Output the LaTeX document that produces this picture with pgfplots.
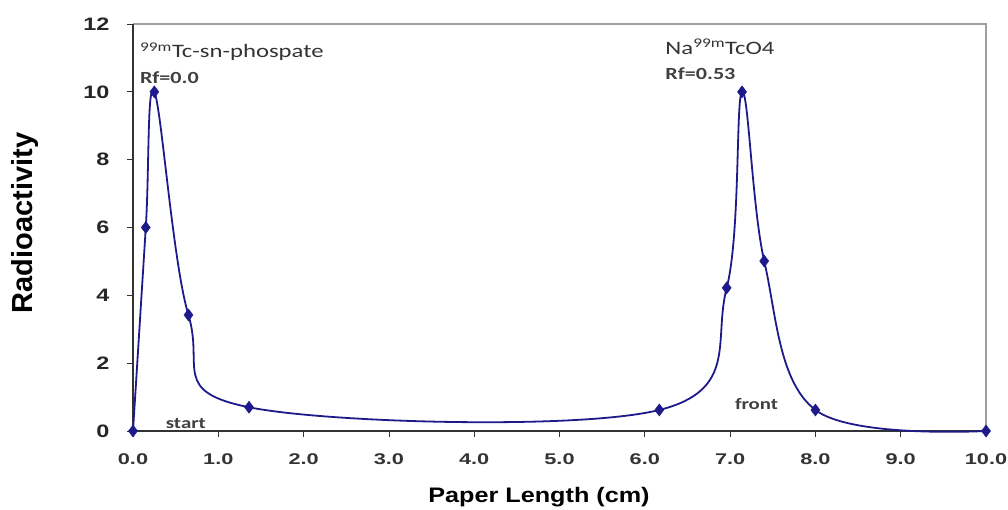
\documentclass[border=0pt]{standalone}
\usepackage{fontspec}
\setmainfont{Liberation Sans}
\newfontfamily\calib{Carlito}
\usepackage{graphicx}
\usepackage{pgfplots}
\pgfplotsset{compat=1.18}
\definecolor{navy}{HTML}{1E1A8A}
\newcommand{\sx}[2][1.3]{\scalebox{#1}[1]{#2}}
\begin{document}
\begin{tikzpicture}
\useasboundingbox (-133pt,-79pt) rectangle (875pt,431pt);
\begin{axis}[
  at={(0pt,0pt)}, anchor=south west,
  scale only axis, width=853pt, height=407pt,
  xmin=0, xmax=10, ymin=0, ymax=12,
  xtick={0,1,...,10}, ytick={0,2,...,12},
  axis line style={draw=none},
  tick style={black!80, line width=0.8pt},
  tick align=outside, major tick length=6pt,
  xtick pos=bottom, ytick pos=left,
  xticklabel={\sx[1.4]{\pgfmathprintnumber[fixed,fixed zerofill,precision=1,assume math mode=true]{\tick}}},
  yticklabel={\sx[1.3]{\pgfmathprintnumber[assume math mode=true]{\tick}}},
  xticklabel style={font=\bfseries\fontsize{15.5}{16}\selectfont, text=black!80, yshift=-13pt},
  yticklabel style={font=\bfseries\fontsize{18}{18}\selectfont, text=black!85, xshift=-14pt},
  xlabel={\sx[1.2]{Paper Length (cm)}}, ylabel={Radioactivity},
  xlabel style={font=\bfseries\fontsize{21}{22}\selectfont, at={(axis description cs:0.476,-0.162)}, anchor=center},
  ylabel style={font=\bfseries\fontsize{29}{30}\selectfont, at={(axis description cs:-0.127,0.511)}, anchor=center},
  clip=false,
]
\draw[gray!75, line width=1.2pt] (axis cs:0,12) -- (axis cs:10,12) -- (axis cs:10,0);
\draw[black!80, line width=1.8pt] (axis cs:0,12) -- (axis cs:0,0) -- (axis cs:10,0);
\addplot[navy, line width=1.8pt, smooth, tension=0.6, mark=diamond*, mark size=6pt, mark options={fill=navy, line width=0.5pt}]
coordinates {
(0,0) (0.15,6) (0.25,10) (0.65,3.42) (1.36,0.7) (6.17,0.62) (6.96,4.22) (7.14,10) (7.40,5.01) (8.0,0.62) (10,0)
};
\node[font=\calib\fontsize{19}{20}\selectfont, anchor=west, text=black!80, inner sep=0pt] at (axis cs:0.08,11.18) {\sx{\textsuperscript{99m}Tc-sn-phospate}};
\node[font=\calib\bfseries\fontsize{17}{18}\selectfont, anchor=west, text=black!75, inner sep=0pt] at (axis cs:0.08,10.41) {\sx{Rf=0.0}};
\node[font=\calib\fontsize{19}{20}\selectfont, anchor=west, text=black!80, inner sep=0pt] at (axis cs:6.24,11.33) {\sx{Na\textsuperscript{99m}TcO4}};
\node[font=\calib\bfseries\fontsize{17}{18}\selectfont, anchor=west, text=black!75, inner sep=0pt] at (axis cs:6.24,10.53) {\sx{Rf=0.53}};
\node[font=\calib\bfseries\fontsize{16}{17}\selectfont, text=black!75] at (axis cs:0.62,0.22) {\sx{start}};
\node[font=\calib\bfseries\fontsize{16}{17}\selectfont, text=black!75] at (axis cs:7.31,0.8) {\sx{front}};
\end{axis}
\end{tikzpicture}
\end{document}
